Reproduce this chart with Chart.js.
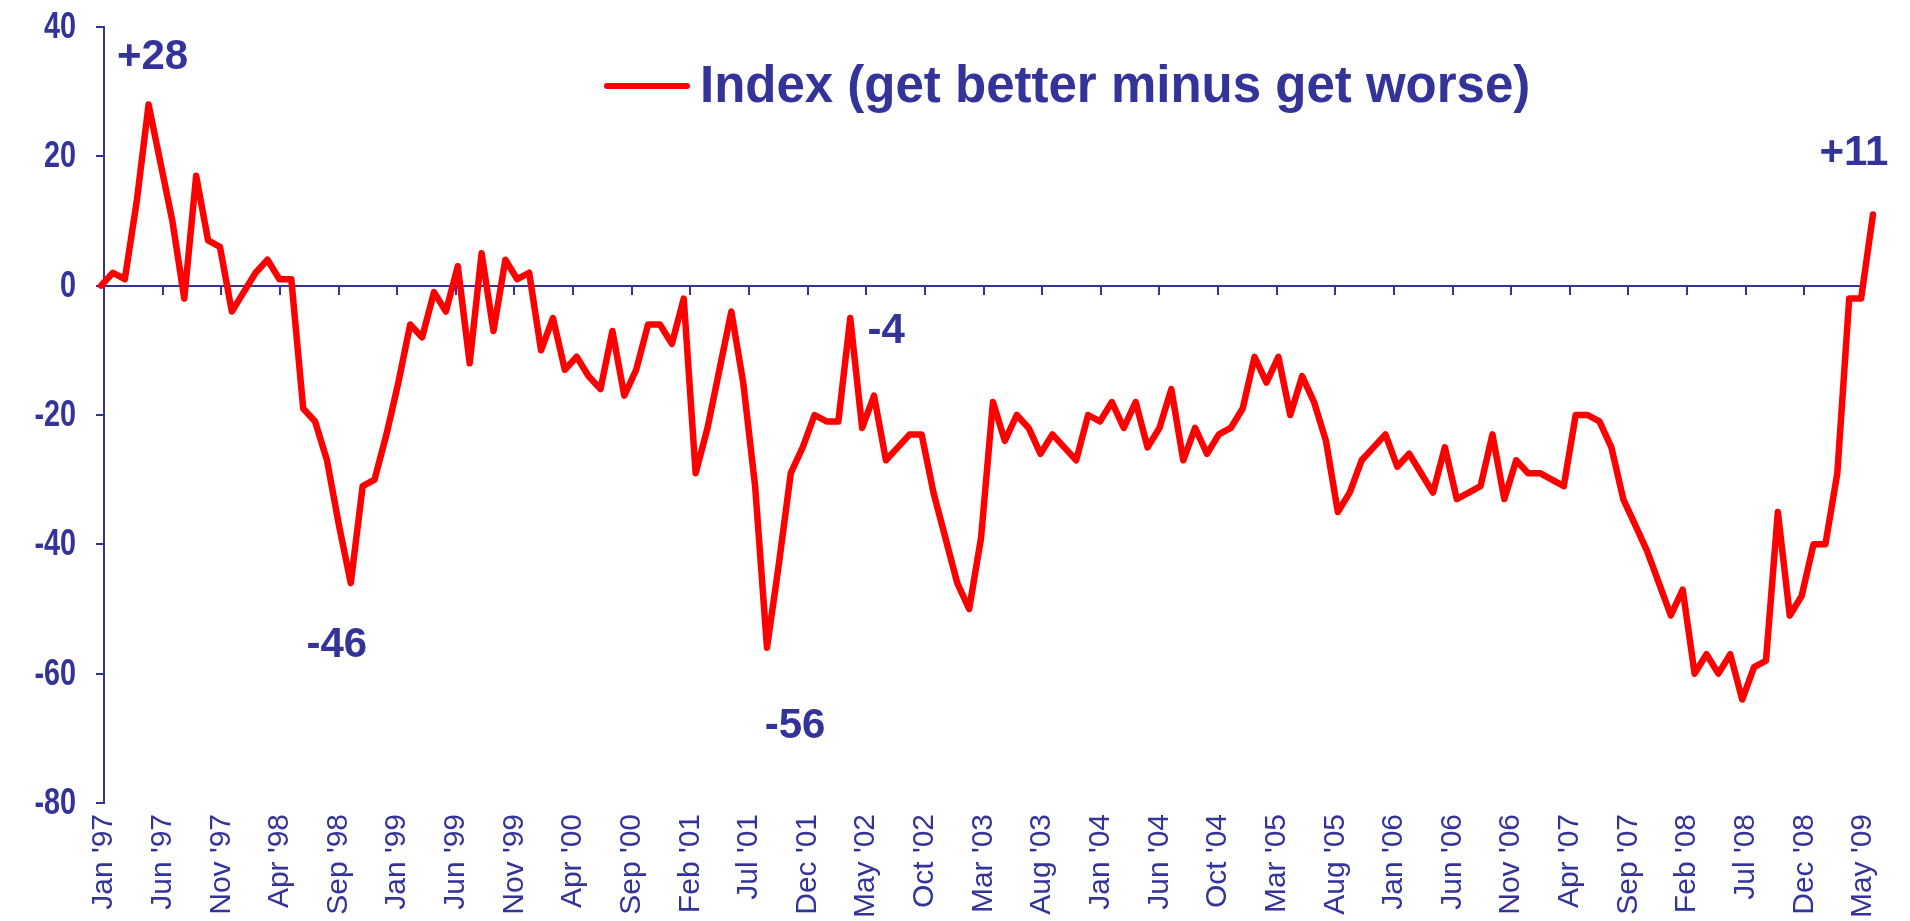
<!DOCTYPE html>
<html>
<head>
<meta charset="utf-8">
<script src="https://cdn.jsdelivr.net/npm/chart.js@4.4.1/dist/chart.umd.min.js"></script>
<style>
  html, body { margin: 0; padding: 0; background: #fff; }
</style>
</head>
<body>
<canvas id="myChart" width="1910" height="921"></canvas>
<script>
const seriesName = 'Index (get better minus get worse)';

// one value per survey, Jan '97 .. mid '09
const indexValues = [
    0, 2, 1, 13, 28, 19, 10, -2, 17, 7, 6, -4, -1, 2, 4, 1, 1, -19, -21, -27, -37,
    -46, -31, -30, -23, -15, -6, -8, -1, -4, 3, -12, 5, -7, 4, 1, 2, -10, -5, -13, -11,
    -14, -16, -7, -17, -13, -6, -6, -9, -2, -29, -22, -13, -4, -15, -31, -56, -43, -29, -25, -20,
    -21, -21, -5, -22, -17, -27, -25, -23, -23, -32, -39, -46, -50, -39, -18, -24, -20, -22, -26, -23,
    -25, -27, -20, -21, -18, -22, -18, -25, -22, -16, -27, -22, -26, -23, -22, -19, -11, -15, -11, -20,
    -14, -18, -24, -35, -32, -27, -25, -23, -28, -26, -29, -32, -25, -33, -32, -31, -23, -33, -27, -29,
    -29, -30, -31, -20, -20, -21, -25, -33, -37, -41, -46, -51, -47, -60, -57, -60, -57, -64, -59, -58,
    -35, -51, -48, -40, -40, -29, -2, -2, 11
];

// axis labels, one every 5 steps
const tickLabels = ["Jan '97", "Jun '97", "Nov '97", "Apr '98", "Sep '98", "Jan '99", "Jun '99", "Nov '99",
    "Apr '00", "Sep '00", "Feb '01", "Jul '01", "Dec '01", "May '02", "Oct '02", "Mar '03", "Aug '03",
    "Jan '04", "Jun '04", "Oct '04", "Mar '05", "Aug '05", "Jan '06", "Jun '06", "Nov '06", "Apr '07",
    "Sep '07", "Feb '08", "Jul '08", "Dec '08", "May '09"];

// value callouts: index into indexValues + text
const calloutPoints = [4, 21, 56, 63, 149];
const calloutTexts = ['+28', '-46', '-56', '-4', '+11'];

const navy = '#333399';
const red = '#ff0000';

const calloutOffsets = [[4, -47], [-14, 62], [28, 79], [36, 13], [-19, -61]];

const extras = {
    id: 'extras',
    afterDraw(chart) {
        const ctx = chart.ctx;
        const xs = chart.scales.x;
        const ys = chart.scales.y;
        const area = chart.chartArea;
        ctx.save();
        ctx.fillStyle = navy;

        // y tick labels, condensed like the original
        ctx.font = 'bold 36px "Liberation Sans", Arial, sans-serif';
        ctx.textAlign = 'right';
        ctx.textBaseline = 'middle';
        const squeeze = 0.8;
        ys.ticks.forEach(function (t) {
            ctx.save();
            ctx.scale(squeeze, 1);
            ctx.fillText(String(t.value), (area.left - 28) / squeeze, ys.getPixelForValue(t.value) + 1);
            ctx.restore();
        });

        ctx.textAlign = 'center';
        ctx.font = 'bold 42px "Liberation Sans", Arial, sans-serif';
        calloutPoints.forEach(function (p, k) {
            const px = xs.getPixelForValue(p) + calloutOffsets[k][0];
            const py = ys.getPixelForValue(indexValues[p]) + calloutOffsets[k][1];
            ctx.fillText(calloutTexts[k], px, py);
        });

        // legend
        const ds = chart.data.datasets[0];
        const lx = area.left + 503;
        const ly = 86;
        ctx.strokeStyle = ds.borderColor;
        ctx.lineWidth = 6;
        ctx.lineCap = 'round';
        ctx.beginPath();
        ctx.moveTo(lx, ly);
        ctx.lineTo(lx + 80, ly);
        ctx.stroke();
        ctx.textAlign = 'left';
        ctx.font = 'bold 51px "Liberation Sans", Arial, sans-serif';
        ctx.fillText(ds.label, lx + 93, ly + 2);
        ctx.restore();
    }
};

const ctx = document.getElementById('myChart');
const myChart = new Chart(ctx, {
    type: 'line',
    data: {
        datasets: [{
            label: seriesName,
            data: indexValues.map((v, i) => ({ x: i, y: v })),
            borderColor: red,
            borderWidth: 6.5,
            borderJoinStyle: 'round',
            borderCapStyle: 'round',
            pointRadius: 0,
            tension: 0,
            clip: false,
            xAxisID: 'x',
            yAxisID: 'y'
        }]
    },
    options: {
        responsive: false,
        devicePixelRatio: 1,
        animation: false,
        layout: { padding: { left: 0, right: 42, top: 27, bottom: 0 } },
        plugins: {
            legend: { display: false },
            tooltip: { enabled: false }
        },
        scales: {
            x: {
                type: 'linear',
                display: false,
                min: 0.25,
                max: 148.16
            },
            xZero: {
                type: 'linear',
                position: { y: 0 },
                min: 0,
                max: 150,
                ticks: { display: false, stepSize: 5 },
                grid: { drawOnChartArea: false, drawTicks: true, tickLength: 8, color: navy, lineWidth: 2 },
                border: { display: true, color: navy, width: 2 }
            },
            xLabels: {
                type: 'linear',
                position: 'bottom',
                min: 0,
                max: 150,
                afterFit: function (scale) { scale.height = 118; },
                ticks: {
                    stepSize: 5,
                    autoSkip: false,
                    minRotation: 90,
                    maxRotation: 90,
                    padding: 11,
                    color: navy,
                    font: { family: '"Liberation Sans", Arial, sans-serif', size: 30 },
                    callback: function (value) { return tickLabels[Math.round(value / 5)]; }
                },
                grid: { display: false, drawTicks: false },
                border: { display: false }
            },
            y: {
                type: 'linear',
                position: 'left',
                min: -80,
                max: 40,
                afterFit: function (scale) { scale.width = 104; },
                ticks: { stepSize: 20, display: false },
                grid: { drawOnChartArea: false, drawTicks: true, tickLength: 8, color: navy, lineWidth: 2 },
                border: { display: true, color: navy, width: 2 }
            }
        }
    },
    plugins: [extras]
});
</script>
</body>
</html>
